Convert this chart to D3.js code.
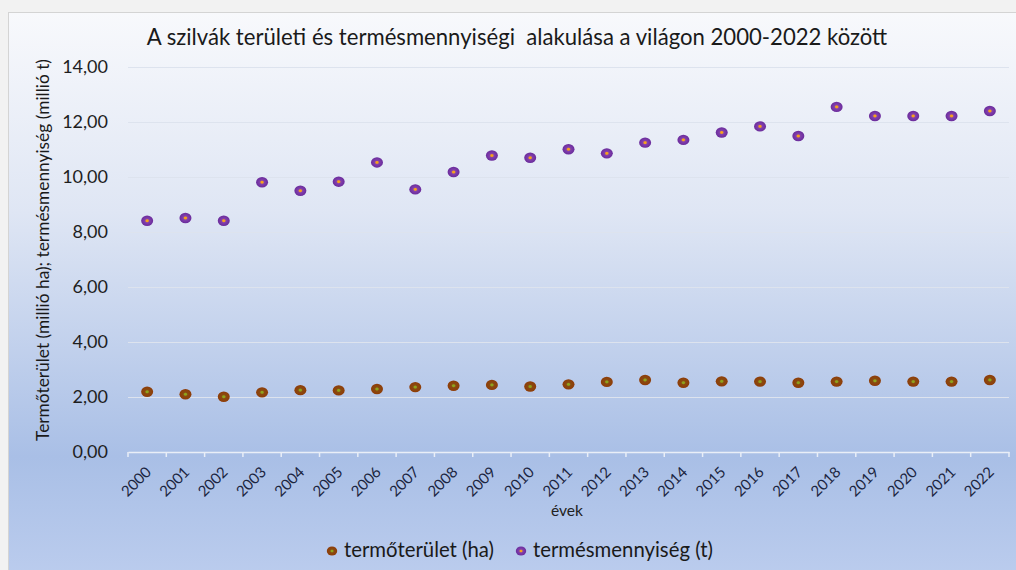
<!DOCTYPE html>
<html lang="hu">

<head>
    <meta charset="UTF-8">
    <title>Szilva</title>
    <script src="https://d3js.org/d3.v7.min.js"></script>
</head>

<style>
    body {
        margin: 0;
        background: #f2f2f2;
        font-family: Lato, "Open Sans", sans-serif;
    }
</style>

<body>
    <svg id="chart"></svg>
</body>

<script>
    // Data
    var years = ["2000", "2001", "2002", "2003", "2004", "2005", "2006", "2007", "2008", "2009", "2010", "2011",
        "2012", "2013", "2014", "2015", "2016", "2017", "2018", "2019", "2020", "2021", "2022"];
    var area = [2.19, 2.10, 2.01, 2.17, 2.25, 2.24, 2.29, 2.36, 2.41, 2.44, 2.38, 2.46,
        2.55, 2.62, 2.52, 2.57, 2.56, 2.52, 2.56, 2.59, 2.56, 2.56, 2.62];
    var yieldT = [8.41, 8.51, 8.41, 9.81, 9.50, 9.83, 10.53, 9.55, 10.18, 10.78, 10.70, 11.01,
        10.86, 11.25, 11.35, 11.62, 11.84, 11.49, 12.55, 12.22, 12.22, 12.22, 12.40];
    var yTicks = [0, 2, 4, 6, 8, 10, 12, 14];
    var seriesNames = ["termőterület (ha)", "termésmennyiség (t)"];

    // Constants
    var W = 1016, H = 570;
    var margin = { top: 67, right: 7, bottom: 118, left: 128 },
        width = W - margin.left - margin.right,
        height = H - margin.top - margin.bottom;

    var svg = d3.select("#chart")
        .attr("width", W)
        .attr("height", H)
        .style("display", "block");

    // fit text widths to the reference
    var fit = (sel, target) => {
        var len = sel.node().getComputedTextLength();
        var fs = +sel.attr("font-size");
        sel.attr("font-size", (fs * target / len).toFixed(2));
    };

    // Gradients
    var defs = svg.append("defs");
    var bg = defs.append("linearGradient")
        .attr("id", "bg")
        .attr("x1", 0).attr("y1", 0).attr("x2", 0).attr("y2", 1);
    [["0%", "#f8f9fc"], ["35%", "#dfe6f4"], ["78%", "#a9bfe6"], ["100%", "#bccdee"]].forEach(s => {
        bg.append("stop").attr("offset", s[0]).attr("stop-color", s[1]);
    });

    var markerDefs = [
        { id: "m-area", inner: "#8fa31c", mid: "#8a4a10", outer: "#8e3c08" },
        { id: "m-yield", inner: "#f7a21b", mid: "#8340ad", outer: "#6a2c9c" }
    ];
    markerDefs.forEach(m => {
        var g = defs.append("radialGradient").attr("id", m.id);
        g.append("stop").attr("offset", "0%").attr("stop-color", m.inner);
        g.append("stop").attr("offset", "18%").attr("stop-color", m.inner);
        g.append("stop").attr("offset", "38%").attr("stop-color", m.mid);
        g.append("stop").attr("offset", "100%").attr("stop-color", m.outer);
    });

    // Chart box
    svg.append("rect")
        .attr("x", 8.5).attr("y", 12.5)
        .attr("width", W).attr("height", H)
        .attr("fill", "url(#bg)")
        .attr("stroke", "#d4d4d4");

    var chart = svg.append("g")
        .attr("transform", "translate(" + margin.left + "," + margin.top + ")");

    // Scales
    var x = d3.scaleBand()
        .range([0, width])
        .domain(years);

    var y = d3.scaleLinear()
        .range([height, 0])
        .domain([0, 14]);

    // Gridlines
    chart.append("g")
        .selectAll("line")
        .data(yTicks.slice(1))
        .join("line")
        .attr("x1", 0).attr("x2", width)
        .attr("y1", d => y(d) + 0.5).attr("y2", d => y(d) + 0.5)
        .attr("stroke", "#dde3ee")
        .attr("stroke-width", 1.2);

    // Y axis
    var yAxis = chart.append("g")
        .call(d3.axisLeft(y).tickValues(yTicks).tickSize(0).tickPadding(20)
            .tickFormat(d => d3.format(".2f")(d).replace(".", ",")));
    yAxis.select(".domain").remove();
    yAxis.selectAll("text")
        .attr("font-family", "Lato, sans-serif")
        .attr("font-size", 18)
        .attr("fill", "#1e1e1e");

    // X axis
    var xAxis = chart.append("g")
        .attr("transform", "translate(0," + height + ")")
        .call(d3.axisBottom(x).tickSize(0));
    xAxis.select(".domain").attr("stroke", "#e9eef7").attr("stroke-width", 1.5);
    xAxis.selectAll(".tick line").remove();
    xAxis.append("g")
        .selectAll("line")
        .data(years.concat(["end"]))
        .join("line")
        .attr("x1", (d, i) => i < years.length ? x(d) : width)
        .attr("x2", (d, i) => i < years.length ? x(d) : width)
        .attr("y1", 0).attr("y2", 5)
        .attr("stroke", "#e9eef7")
        .attr("stroke-width", 1.5);
    xAxis.selectAll(".tick text")
        .attr("font-family", "Lato, sans-serif")
        .attr("font-size", 15)
        .attr("fill", "#1b2540")
        .attr("text-anchor", "end")
        .attr("dy", 0)
        .attr("y", 0)
        .attr("transform", "translate(5,21) rotate(-45)");

    // Points
    var series = [
        { values: area, fill: "url(#m-area)", rx: 6, ry: 5.2 },
        { values: yieldT, fill: "url(#m-yield)", rx: 6, ry: 5.2 }
    ];
    series.forEach(s => {
        chart.append("g")
            .selectAll("ellipse")
            .data(s.values)
            .join("ellipse")
            .attr("cx", (d, i) => x(years[i]) + x.bandwidth() / 2)
            .attr("cy", d => y(d))
            .attr("rx", s.rx)
            .attr("ry", s.ry)
            .attr("fill", s.fill);
    });

    // Title
    var title = svg.append("text")
        .attr("x", 517)
        .attr("y", 45)
        .attr("text-anchor", "middle")
        .attr("font-size", 19)
        .attr("fill", "#1a1a1a")
        .style("white-space", "pre")
        .text("A szilvák területi és termésmennyiségi  alakulása a világon 2000-2022 között");

    // Axis labels
    var yLabel = svg.append("text")
        .attr("transform", "translate(49,250) rotate(-90)")
        .attr("text-anchor", "middle")
        .attr("font-size", 15.5)
        .attr("fill", "#1a1a1a")
        .text("Termőterület (millió ha); termésmennyiség (millió t)");

    var xLabel = svg.append("text")
        .attr("x", 567)
        .attr("y", 516)
        .attr("text-anchor", "middle")
        .attr("font-size", 13)
        .attr("fill", "#222")
        .text("évek");

    fit(title, 741);
    fit(yLabel, 382);
    fit(xLabel, 32);

    // Legend
    var legend = svg.append("g");
    var legendItems = [
        { x: 332, name: seriesNames[0], fill: "url(#m-area)" },
        { x: 521, name: seriesNames[1], fill: "url(#m-yield)" }
    ];
    var legendTexts = legendItems.map(l => {
        legend.append("ellipse")
            .attr("cx", l.x).attr("cy", 551)
            .attr("rx", 5.2).attr("ry", 4.6)
            .attr("fill", l.fill);
        return legend.append("text")
            .attr("x", l.x + 12)
            .attr("y", 557)
            .attr("font-size", 16)
            .attr("fill", "#1a1a1a")
            .text(l.name);
    });
    // both entries share one size, scaled so the pair spans the reference width
    var total = legendTexts[0].node().getComputedTextLength() + legendTexts[1].node().getComputedTextLength();
    var fs = (16 * (147 + 183) / total).toFixed(2);
    legendTexts.forEach(t => t.attr("font-size", fs));
</script>

</html>
